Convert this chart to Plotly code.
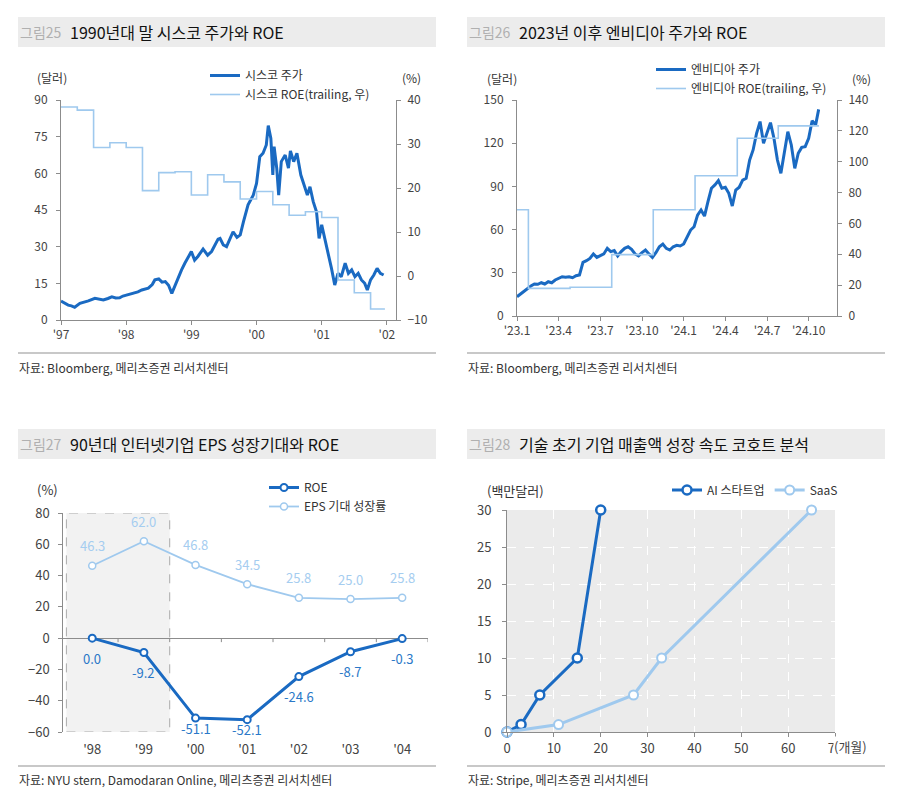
import plotly.graph_objects as go

W, H = 900, 810
def px(x): return x / W
def py(y): return 1 - y / H

FONT = "Noto Sans CJK KR"
DARK = "#1a6ac2"
LIGHT = "#9fc9ee"
AXIS = "#8c8c8c"
TXT = "#333333"

# ---------------- Panel 1: Cisco ----------------
csco_year = [1997.0, 1997.05, 1997.11, 1997.16, 1997.21, 1997.29, 1997.35, 1997.42, 1997.52, 1997.58,
             1997.65, 1997.72, 1997.78, 1997.84, 1997.9, 1997.95, 1998.0, 1998.06, 1998.11, 1998.18,
             1998.24, 1998.3, 1998.34, 1998.4, 1998.44, 1998.5, 1998.55, 1998.6, 1998.65, 1998.7,
             1998.74, 1998.8, 1998.85, 1998.9, 1998.95, 1999.0, 1999.05, 1999.1, 1999.18, 1999.25,
             1999.31, 1999.36, 1999.41, 1999.44, 1999.49, 1999.54, 1999.6, 1999.64, 1999.7, 1999.75,
             1999.8, 1999.87, 1999.95, 2000.0, 2000.05, 2000.10, 2000.15, 2000.18, 2000.22, 2000.25,
             2000.27, 2000.31, 2000.34, 2000.38, 2000.44, 2000.49, 2000.52, 2000.57, 2000.62, 2000.68,
             2000.73, 2000.78, 2000.82, 2000.87, 2000.92, 2000.96, 2001.0, 2001.05, 2001.10, 2001.15,
             2001.20, 2001.25, 2001.30, 2001.36, 2001.41, 2001.46, 2001.51, 2001.56, 2001.61, 2001.66,
             2001.70, 2001.75, 2001.80, 2001.85, 2001.90, 2001.95]
csco_price = [7.8, 7.0, 6.1, 5.8, 5.2, 6.8, 7.2, 7.8, 8.9, 8.5,
              8.2, 8.8, 9.5, 9.0, 9.1, 9.8, 10.2, 10.5, 10.9, 11.5,
              12.3, 12.6, 13.0, 14.5, 16.4, 16.8, 15.5, 15.7, 14.2, 10.9,
              13.5, 17.7, 20.5, 23.2, 25.5, 28.0, 24.5, 26.0, 29.0, 26.5,
              28.0, 30.5, 33.1, 33.4, 30.7, 30.0, 33.5, 36.1, 33.8, 34.8,
              40.2, 47.1, 51.1, 55.9, 66.8, 68.2, 71.6, 79.5, 74.3, 59.3,
              70.9, 62.1, 51.1, 64.8, 67.5, 62.1, 69.2, 64.8, 68.2, 59.3,
              55.2, 51.1, 54.5, 48.4, 44.3, 33.4, 38.9, 33.4, 26.6, 21.1,
              14.3, 19.1, 17.7, 23.2, 19.1, 20.5, 17.7, 19.1, 16.4, 15.0,
              12.3, 16.4, 18.4, 21.1, 19.1, 18.4]
csco_roe_year = [1997.0, 1997.25, 1997.5, 1997.75, 1998.0, 1998.25, 1998.5, 1998.75, 1999.0, 1999.25,
                 1999.5, 1999.75, 2000.0, 2000.25, 2000.5, 2000.75, 2001.0, 2001.25, 2001.5, 2001.75, 2001.97]
csco_roe = [38.4, 37.7, 29.2, 30.3, 29.2, 19.4, 23.5, 23.7, 18.4, 23.0,
            21.4, 17.5, 19.2, 16.2, 13.8, 14.6, 13.3, -0.9, -3.8, -7.5, -7.5]
p1_tickvals = [1997, 1998, 1999, 2000, 2001, 2002]
p1_ticktext = ["'97", "'98", "'99", "'00", "'01", "'02"]

# ---------------- Panel 2: NVIDIA ----------------
nvda_month = [0, 0.25, 0.5, 0.75, 1.0, 1.25, 1.5, 1.75, 2.0, 2.25, 2.5, 2.75, 3.0, 3.25, 3.5, 3.75,
              4.0, 4.25, 4.5, 4.75, 5.0, 5.25, 5.5, 5.75, 6.0, 6.25, 6.5, 6.75, 7.0, 7.25, 7.5, 7.75,
              8.0, 8.25, 8.5, 8.75, 9.0, 9.25, 9.5, 9.75, 10.0, 10.25, 10.5, 10.75, 11.0, 11.25, 11.5, 11.75,
              12.0, 12.25, 12.5, 12.75, 13.0, 13.25, 13.5, 13.75, 14.0, 14.25, 14.5, 14.75, 15.0, 15.25, 15.5, 15.75,
              16.0, 16.25, 16.5, 16.75, 17.0, 17.25, 17.5, 17.75, 18.0, 18.25, 18.5, 18.75, 19.0, 19.25, 19.5, 19.75,
              20.0, 20.25, 20.5, 20.75, 21.0, 21.25, 21.5, 21.72]
nvda_price = [13.4, 15.3, 16.9, 18.5, 20.8, 22.2, 22.0, 23.1, 22.2, 23.8, 23.1, 25.0, 26.2, 27.3, 26.9, 27.3,
              26.6, 28.0, 28.5, 37.3, 38.4, 40.0, 43.1, 40.7, 41.9, 43.1, 47.0, 44.7, 45.4, 41.7, 44.7, 47.0,
              48.1, 46.3, 43.1, 41.7, 44.0, 45.8, 43.1, 40.7, 44.0, 48.1, 50.0, 47.0, 45.8, 48.1, 49.1, 48.6,
              50.0, 54.6, 59.7, 62.0, 70.1, 73.6, 69.4, 79.4, 88.7, 91.0, 94.0, 88.7, 89.4, 85.2, 76.4, 87.5,
              89.4, 94.4, 95.6, 108.3, 115.3, 126.9, 135.0, 120.0, 128.0, 134.3, 123.4, 108.3, 99.1, 113.0, 128.0, 118.8,
              102.5, 113.0, 117.1, 117.6, 123.4, 135.6, 132.6, 143.5]
nvda_roe_month = [0, 0.82, 3.82, 6.82, 9.81, 12.82, 15.86, 18.81, 21.74]
nvda_roe = [68.9, 17.9, 18.6, 39.8, 68.9, 90.9, 115.2, 123.2, 123.2]
p2_tickvals = [0, 3, 6, 9, 12, 15, 18, 21]
p2_ticktext = ["'23.1", "'23.4", "'23.7", "'23.10", "'24.1", "'24.4", "'24.7", "'24.10"]

# ---------------- Panel 3: Internet firms ----------------
p3_years = ["'98", "'99", "'00", "'01", "'02", "'03", "'04"]
p3_roe = [0.0, -9.2, -51.1, -52.1, -24.6, -8.7, -0.3]
p3_eps = [46.3, 62.0, 46.8, 34.5, 25.8, 25.0, 25.8]

# ---------------- Panel 4: Cohort ----------------
ai_month = [0, 3, 7, 15, 20]
ai_rev = [0, 1, 5, 10, 30]
saas_month = [0, 11, 27, 33, 65]
saas_rev = [0, 1, 5, 10, 30]

fig = go.Figure()

fig.add_trace(go.Scatter(x=csco_year, y=csco_price, mode="lines", name="시스코 주가",
                         line=dict(color=DARK, width=3), xaxis="x", yaxis="y", legend="legend"))
fig.add_trace(go.Scatter(x=csco_roe_year, y=csco_roe, mode="lines", name="시스코 ROE(trailing, 우)",
                         line=dict(color=LIGHT, width=1.6, shape="hv"), xaxis="x", yaxis="y2", legend="legend"))
fig.add_trace(go.Scatter(x=nvda_month, y=nvda_price, mode="lines", name="엔비디아 주가",
                         line=dict(color=DARK, width=3), xaxis="x2", yaxis="y3", legend="legend2"))
fig.add_trace(go.Scatter(x=nvda_roe_month, y=nvda_roe, mode="lines", name="엔비디아 ROE(trailing, 우)",
                         line=dict(color=LIGHT, width=1.6, shape="hv"), xaxis="x2", yaxis="y4", legend="legend2"))
xi = list(range(len(p3_years)))
fig.add_trace(go.Scatter(x=xi, y=p3_roe, mode="lines+markers", name="ROE",
                         line=dict(color=DARK, width=3),
                         marker=dict(symbol="circle", size=7, color="white", line=dict(color=DARK, width=2)),
                         xaxis="x3", yaxis="y5", legend="legend3", cliponaxis=False))
fig.add_trace(go.Scatter(x=xi, y=p3_eps, mode="lines+markers", name="EPS 기대 성장률",
                         line=dict(color=LIGHT, width=1.8),
                         marker=dict(symbol="circle", size=7, color="white", line=dict(color=LIGHT, width=1.5)),
                         xaxis="x3", yaxis="y5", legend="legend3", cliponaxis=False))
fig.add_trace(go.Scatter(x=ai_month, y=ai_rev, mode="lines+markers", name="AI 스타트업",
                         line=dict(color=DARK, width=3),
                         marker=dict(symbol="circle", size=9, color="white", line=dict(color=DARK, width=2.5)),
                         xaxis="x4", yaxis="y6", legend="legend4", cliponaxis=False))
fig.add_trace(go.Scatter(x=saas_month, y=saas_rev, mode="lines+markers", name="SaaS",
                         line=dict(color=LIGHT, width=3),
                         marker=dict(symbol="circle", size=9, color="white", line=dict(color=LIGHT, width=2)),
                         xaxis="x4", yaxis="y6", legend="legend4", cliponaxis=False))

tf12 = dict(family=FONT, size=12, color="#444")
tf13 = dict(family=FONT, size=13, color="#444")
ax_common = dict(showgrid=False, zeroline=False, showline=True, linecolor=AXIS, linewidth=1,
                 ticks="outside", tickcolor=AXIS, ticklen=4, automargin=False)

fig.update_layout(
    template="none",
    width=W, height=H, margin=dict(l=0, r=0, t=0, b=0, pad=0, autoexpand=False),
    paper_bgcolor="white", plot_bgcolor="white",
    font=dict(family=FONT, color=TXT),
    xaxis=dict(domain=[px(61), px(396)], range=[1997.0, 2002.14], tickvals=p1_tickvals, ticktext=p1_ticktext,
               anchor="y", tickfont=tf12, **ax_common),
    yaxis=dict(domain=[py(320), py(100)], range=[0, 90], dtick=15, anchor="x", tickfont=tf12,
               ticklabelstandoff=6, **ax_common),
    yaxis2=dict(range=[-10, 40], dtick=10, overlaying="y", side="right", anchor="x", tickfont=tf12,
                ticklabelstandoff=4, **ax_common),
    xaxis2=dict(domain=[px(517), px(837)], range=[0, 23.04], tickvals=p2_tickvals, ticktext=p2_ticktext,
                anchor="y3", tickfont=tf12, **ax_common),
    yaxis3=dict(domain=[py(316), py(100)], range=[0, 150], dtick=30, anchor="x2", tickfont=tf12,
                ticklabelstandoff=6, **ax_common),
    yaxis4=dict(range=[0, 140], dtick=20, overlaying="y3", side="right", anchor="x2", tickfont=tf12,
                ticklabelstandoff=4, **ax_common),
    xaxis3=dict(domain=[px(63.3), px(428)], range=[-0.56, 6.5], tickvals=xi, ticktext=p3_years,
                anchor="y5", showline=False, showgrid=False, zeroline=False, ticks="", tickfont=tf13,
                ticklabelstandoff=8, automargin=False),
    yaxis5=dict(domain=[py(732), py(513)], range=[-60, 80], dtick=20, anchor="x3", tickfont=tf13,
                ticklabelstandoff=6, showgrid=False, zeroline=True, zerolinecolor=AXIS, zerolinewidth=1,
                showline=True, linecolor=AXIS, ticks="outside", tickcolor=AXIS, ticklen=4, automargin=False),
    xaxis4=dict(domain=[px(507), px(835)], range=[0, 70], dtick=10, anchor="y6", tickfont=tf13,
                showgrid=True, gridcolor="white", griddash="dash", gridwidth=1, automargin=False,
                zeroline=False, showline=True, linecolor=AXIS, ticks="outside", tickcolor=AXIS, ticklen=4),
    yaxis6=dict(domain=[py(732), py(510)], range=[0, 30], dtick=5, anchor="x4", tickfont=tf13,
                ticklabelstandoff=8, showgrid=True, gridcolor="white", griddash="dash", gridwidth=1,
                automargin=False,
                zeroline=False, showline=True, linecolor=AXIS, ticks="outside", tickcolor=AXIS, ticklen=4),
    legend=dict(x=px(205), y=py(61), xanchor="left", yanchor="top", bgcolor="rgba(0,0,0,0)",
                font=dict(family=FONT, size=12, color=TXT), tracegroupgap=0, itemwidth=30),
    legend2=dict(x=px(651), y=py(55), xanchor="left", yanchor="top", bgcolor="rgba(0,0,0,0)",
                 font=dict(family=FONT, size=12, color=TXT), tracegroupgap=0, itemwidth=30),
    legend3=dict(x=px(264), y=py(473), xanchor="left", yanchor="top", bgcolor="rgba(0,0,0,0)",
                 font=dict(family=FONT, size=12, color=TXT), tracegroupgap=0, itemwidth=30),
    legend4=dict(x=px(667), y=py(490), xanchor="left", yanchor="middle", orientation="h",
                 bgcolor="rgba(0,0,0,0)", font=dict(family=FONT, size=12, color=TXT), itemwidth=30),
)

shapes = []
annotations = []

def title_block(x0, x1, y0, y1, num, title):
    shapes.append(dict(type="rect", xref="paper", yref="paper", x0=px(x0), x1=px(x1), y0=py(y1), y1=py(y0),
                       fillcolor="#ececec", line=dict(width=0), layer="below"))
    yc = (y0 + y1) / 2
    annotations.append(dict(xref="paper", yref="paper", x=px(x0), y=py(yc), xanchor="left", yanchor="middle",
                            text=num, showarrow=False, font=dict(family=FONT, size=14, color="#b0b0b0")))
    annotations.append(dict(xref="paper", yref="paper", x=px(x0 + 50), y=py(yc), xanchor="left", yanchor="middle",
                            text=title, showarrow=False, font=dict(family=FONT, size=16, color="#111")))

def source_block(x0, x1, yline, ytext, text):
    shapes.append(dict(type="line", xref="paper", yref="paper", x0=px(x0), x1=px(x1), y0=py(yline), y1=py(yline),
                       line=dict(color="#c8c8c8", width=2)))
    annotations.append(dict(xref="paper", yref="paper", x=px(x0 - 1), y=py(ytext), xanchor="left", yanchor="middle",
                            text=text, showarrow=False, font=dict(family=FONT, size=12, color=TXT)))

def label(x, y, text, anchor="center", size=12):
    annotations.append(dict(xref="paper", yref="paper", x=px(x), y=py(y), xanchor=anchor, yanchor="middle",
                            text=text, showarrow=False, font=dict(family=FONT, size=size, color=TXT)))

title_block(18, 436, 17, 47, "그림25", "1990년대 말 시스코 주가와 ROE")
title_block(467, 885, 17, 47, "그림26", "2023년 이후 엔비디아 주가와 ROE")
title_block(18, 436, 429, 459, "그림27", "90년대 인터넷기업 EPS 성장기대와 ROE")
title_block(467, 885, 429, 459, "그림28", "기술 초기 기업 매출액 성장 속도 코호트 분석")

source_block(18, 436, 353, 367, "자료: Bloomberg, 메리츠증권 리서치센터")
source_block(467, 885, 353, 367, "자료: Bloomberg, 메리츠증권 리서치센터")
source_block(18, 436, 766, 779, "자료: NYU stern, Damodaran Online, 메리츠증권 리서치센터")
source_block(467, 885, 766, 779, "자료: Stripe, 메리츠증권 리서치센터")

label(35, 77, "(달러)", "left")
label(423, 77, "(%)", "right")
label(485, 78, "(달러)", "left")
label(873, 78, "(%)", "right")
label(35, 489, "(%)", "left", 13)
label(485, 490, "(백만달러)", "left", 13)
annotations.append(dict(xref="paper", yref="paper", x=px(833), y=py(746), xanchor="left", yanchor="middle",
                        text="(개월)", showarrow=False, bgcolor="white", borderpad=0,
                        font=dict(family=FONT, size=13, color="#444")))

shapes.append(dict(type="rect", xref="x3", yref="y5", x0=-0.5, x1=1.5, y0=-60, y1=80,
                   fillcolor="#f2f2f2", line=dict(color="#aaaaaa", width=1, dash="dash"), layer="below"))
for b in [0.5, 1.5, 2.5, 3.5, 4.5, 5.5, 6.5]:
    shapes.append(dict(type="line", xref="x3", yref="y5", ysizemode="pixel", yanchor=0,
                       x0=b, x1=b, y0=0, y1=-4, line=dict(color=AXIS, width=1)))
shapes.append(dict(type="rect", xref="x4 domain", yref="y6 domain", x0=0, x1=1, y0=0, y1=1,
                   fillcolor="#ebebeb", line=dict(width=0), layer="below"))

for i, v in enumerate(p3_roe):
    shift = -10 if v < -45 else -20
    annotations.append(dict(xref="x3", yref="y5", x=i, y=v, text=f"{v:.1f}", showarrow=False, yshift=shift,
                            font=dict(family=FONT, size=13, color="#2a78c8")))
for i, v in enumerate(p3_eps):
    annotations.append(dict(xref="x3", yref="y5", x=i, y=v, text=f"{v:.1f}", showarrow=False, yshift=20,
                            font=dict(family=FONT, size=13, color="#a5cdf0")))

fig.update_layout(shapes=shapes, annotations=annotations)
fig.write_html("out.html")
